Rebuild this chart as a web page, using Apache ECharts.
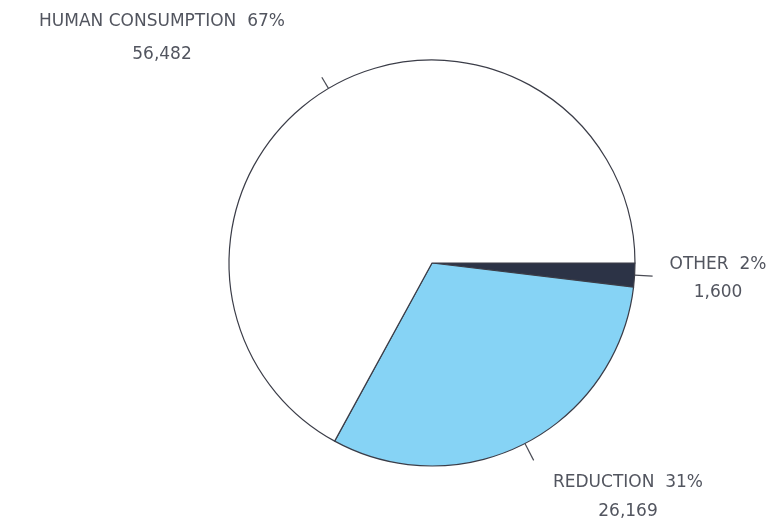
<!DOCTYPE html>
<html>
<head>
<meta charset="utf-8">
<script src="https://cdn.jsdelivr.net/npm/echarts@6/dist/echarts.min.js"></script>
<style>
  html, body { margin: 0; padding: 0; background: #ffffff; }
  #chart { width: 777px; height: 523px; }
</style>
</head>
<body>
<div id="chart"></div>
<script>
// Fish catch by use (thousand tonnes), drawn clockwise from 3 o'clock
const categories = ['OTHER', 'REDUCTION', 'HUMAN CONSUMPTION'];
const catchValues = [1600, 26169, 56482];

const sliceColors = ['#2c3346', '#86d3f5', '#ffffff'];
// Label block centres and spacing for each slice
const labelSpots = [
  { x: 718, y: 279, lineHeight: 28, tick: 18 },
  { x: 628, y: 497, lineHeight: 29, tick: 19 },
  { x: 162, y: 38, lineHeight: 33, tick: 13 }
];

const fmt = v => v.toLocaleString('en-US');

const chart = echarts.init(document.getElementById('chart'), null, { renderer: 'canvas' });

chart.setOption({
  animation: false,
  backgroundColor: '#ffffff',
  series: [{
    type: 'pie',
    center: [432, 263],
    radius: 203,
    startAngle: 0,
    clockwise: true,
    avoidLabelOverlap: false,
    silent: true,
    itemStyle: { borderColor: '#3b3d48', borderWidth: 1.2 },
    label: {
      show: true,
      position: 'outside',
      fontFamily: 'DejaVu Sans',
      fontSize: 17,
      color: '#52555f',
      align: 'center',
      verticalAlign: 'middle',
      formatter: p => p.name + '  ' + Math.round(p.percent) + '%\n' + fmt(p.value)
    },
    labelLine: {
      show: true,
      length2: 0,
      lineStyle: { color: '#4a4c55', width: 1.2 }
    },
    labelLayout: params => {
      const s = labelSpots[params.dataIndex];
      return {
        x: s.x,
        y: s.y,
        align: 'center',
        verticalAlign: 'middle',
        labelLinePoints: params.labelLinePoints
      };
    },
    data: categories.map((name, i) => ({
      name,
      value: catchValues[i],
      itemStyle: { color: sliceColors[i] },
      label: { lineHeight: labelSpots[i].lineHeight },
      labelLine: { length: labelSpots[i].tick }
    }))
  }]
});
</script>
</body>
</html>
